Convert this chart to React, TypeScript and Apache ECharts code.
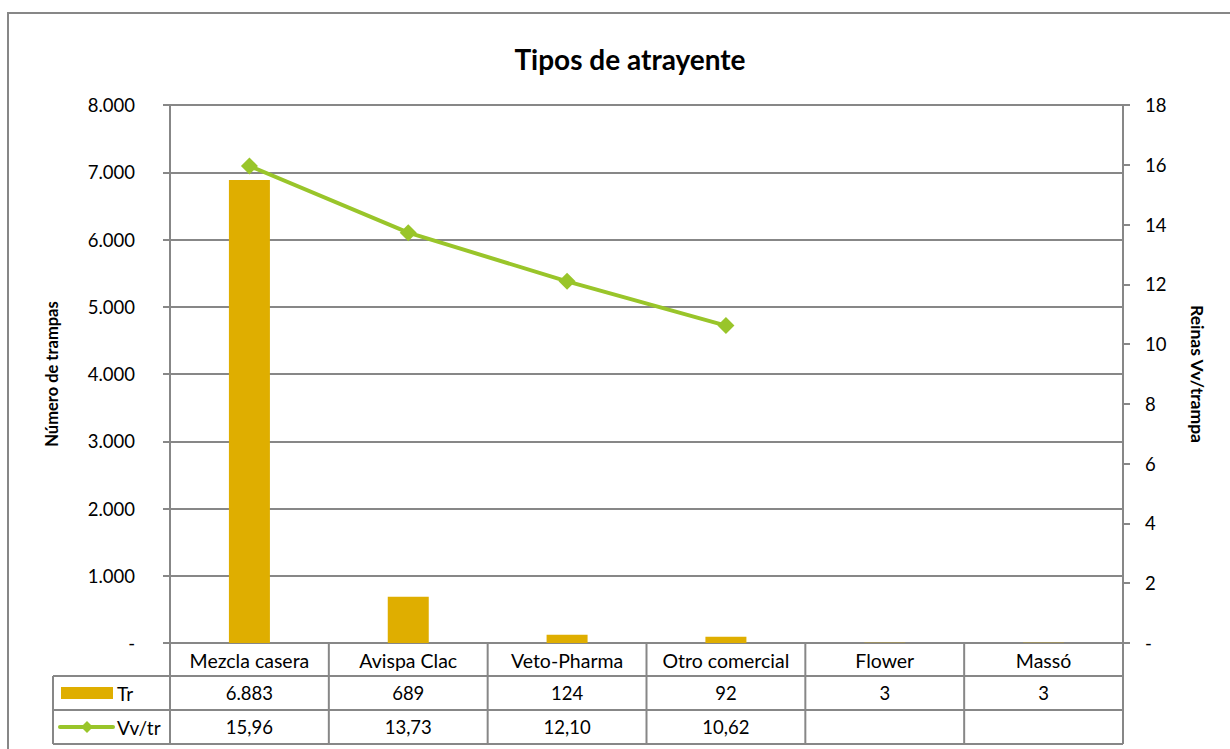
import React, { useEffect, useRef } from "react";
import * as echarts from "echarts";

const categories = ["Mezcla casera", "Avispa Clac", "Veto-Pharma", "Otro comercial", "Flower", "Massó"];
const trValues = [6883, 689, 124, 92, 3, 3];
const vvValues: (number | null)[] = [15.96, 13.73, 12.1, 10.62, null, null];
const seriesNames = ["Tr", "Vv/tr"];
const titleText = "Tipos de atrayente";
const leftAxisName = "Número de trampas";
const rightAxisName = "Reinas Vv/trampa";

const W = 1230;
const H = 749;
const GL = 170;
const GR = 1123;
const GT = 105;
const GB = 643;
const ROWS = [643, 676, 710, 744];
const TABLE_LEFT = 53;
const GRAY = "#878787";
const BAR = "#DFAE00";
const GREEN = "#99C52A";
const FONT = "Lato";

const fmtThousands = (n: number) => (n === 0 ? "-" : String(n).replace(/\B(?=(\d{3})+(?!\d))/g, "."));
const fmtDec = (v: number | null) => (v == null ? "" : v.toFixed(2).replace(".", ","));

export default function App() {
  const ref = useRef<HTMLDivElement>(null);
  useEffect(() => {
    if (!ref.current) return;
    const chart = echarts.init(ref.current, undefined, { renderer: "svg" });
    const n = categories.length;
    const colW = (GR - GL) / n;
    const graphic: any[] = [];
    graphic.push({
      type: "rect",
      shape: { x: 8, y: 13, width: 1300, height: 800 },
      style: { fill: "none", stroke: GRAY, lineWidth: 2 },
      silent: true,
    });
    for (let i = 1; i < ROWS.length; i++) {
      graphic.push({
        type: "line",
        shape: { x1: TABLE_LEFT, y1: ROWS[i], x2: GR, y2: ROWS[i] },
        style: { stroke: GRAY, lineWidth: 2 },
      });
    }
    graphic.push({
      type: "line",
      shape: { x1: TABLE_LEFT, y1: ROWS[1], x2: TABLE_LEFT, y2: ROWS[3] },
      style: { stroke: GRAY, lineWidth: 2 },
    });
    for (let i = 0; i <= n; i++) {
      const x = GL + i * colW;
      graphic.push({
        type: "line",
        shape: { x1: x, y1: ROWS[0], x2: x, y2: ROWS[3] },
        style: { stroke: GRAY, lineWidth: 2 },
      });
    }
    const rowVals = [trValues.map(fmtThousands), vvValues.map(fmtDec)];
    rowVals.forEach((vals, r) => {
      const cy = (ROWS[r + 1] + ROWS[r + 2]) / 2;
      vals.forEach((t, i) => {
        graphic.push({
          type: "text",
          x: GL + (i + 0.5) * colW,
          y: cy,
          style: { text: t, fill: "#000", font: `18.5px ${FONT}`, align: "center", verticalAlign: "middle" },
        });
      });
    });
    const cy1 = (ROWS[1] + ROWS[2]) / 2;
    const cy2 = (ROWS[2] + ROWS[3]) / 2;
    graphic.push({ type: "rect", shape: { x: 61, y: cy1 - 6, width: 52, height: 12 }, style: { fill: BAR } });
    graphic.push({
      type: "text",
      x: 117,
      y: cy1,
      style: { text: seriesNames[0], fill: "#000", font: `19px ${FONT}`, align: "left", verticalAlign: "middle" },
    });
    graphic.push({
      type: "line",
      shape: { x1: 60, y1: cy2, x2: 113, y2: cy2 },
      style: { stroke: GREEN, lineWidth: 4, lineCap: "round" },
    });
    graphic.push({
      type: "polygon",
      shape: { points: [[87, cy2 - 6], [93, cy2], [87, cy2 + 6], [81, cy2]] },
      style: { fill: GREEN },
    });
    graphic.push({
      type: "text",
      x: 117,
      y: cy2,
      style: { text: seriesNames[1], fill: "#000", font: `19px ${FONT}`, align: "left", verticalAlign: "middle" },
    });

    chart.setOption({
      animation: false,
      backgroundColor: "#fff",
      title: {
        text: titleText,
        left: 625,
        top: 40,
        textAlign: "center",
        textStyle: { fontFamily: FONT, fontWeight: "bold", fontSize: 28, color: "#000" },
      },
      grid: { left: GL, right: W - GR, top: GT, bottom: H - GB, containLabel: false },
      xAxis: {
        type: "category",
        data: categories,
        axisLine: { show: true, lineStyle: { color: GRAY, width: 2 } },
        axisTick: { show: false },
        axisLabel: { interval: 0, hideOverlap: false, color: "#000", fontFamily: FONT, fontSize: 19.5, margin: 7, lineHeight: 20 },
        splitLine: { show: false },
      },
      yAxis: [
        {
          type: "value",
          min: 0,
          max: 8000,
          interval: 1000,
          name: leftAxisName,
          nameLocation: "middle",
          nameGap: 110,
          nameTextStyle: { fontFamily: FONT, fontWeight: "bold", fontSize: 16.5, color: "#000" },
          axisLine: { show: true, lineStyle: { color: GRAY, width: 2 } },
          axisTick: { show: true, length: 7, lineStyle: { color: GRAY, width: 2 } },
          axisLabel: { color: "#000", fontFamily: FONT, fontSize: 18.5, margin: 35, formatter: (v: number) => fmtThousands(v) },
          splitLine: { show: true, lineStyle: { color: GRAY, width: 2 } },
        },
        {
          type: "value",
          min: 0,
          max: 18,
          interval: 2,
          position: "right",
          name: rightAxisName,
          nameLocation: "middle",
          nameGap: 65,
          nameRotate: -90,
          nameTextStyle: { fontFamily: FONT, fontWeight: "bold", fontSize: 17.5, color: "#000" },
          axisLine: { show: true, lineStyle: { color: GRAY, width: 2 } },
          axisTick: { show: true, length: 7, lineStyle: { color: GRAY, width: 2 } },
          axisLabel: { color: "#000", fontFamily: FONT, fontSize: 18.5, margin: 22, formatter: (v: number) => (v === 0 ? "-" : String(v)) },
          splitLine: { show: false },
        },
      ],
      series: [
        {
          name: seriesNames[0],
          type: "bar",
          yAxisIndex: 0,
          data: trValues,
          barWidth: 41,
          itemStyle: { color: BAR },
        },
        {
          name: seriesNames[1],
          type: "line",
          yAxisIndex: 1,
          data: vvValues,
          symbol: "diamond",
          symbolSize: 17,
          showSymbol: true,
          lineStyle: { color: GREEN, width: 4 },
          itemStyle: { color: GREEN },
          z: 5,
        },
      ],
      graphic,
    });
    return () => chart.dispose();
  }, []);
  return <div ref={ref} style={{ position: "absolute", left: 0, top: 0, width: W, height: H }} />;
}
